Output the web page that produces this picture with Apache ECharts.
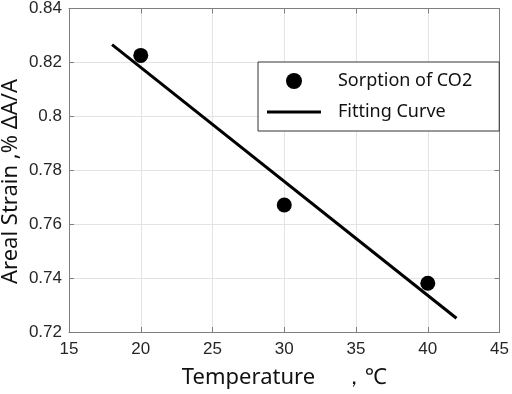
<!DOCTYPE html>
<html><head><meta charset="utf-8">
<script src="https://cdn.jsdelivr.net/npm/echarts@6/dist/echarts.min.js"></script>
<style>html,body{margin:0;padding:0;background:#fff}#c{width:512px;height:394px}</style>
</head><body><div id="c"></div>
<script>
const temperatures = [20, 30, 40];
const strainValues = [0.8226, 0.7671, 0.7381];
const fitTemps = [18, 42];
const fitValues = [0.8266, 0.7251];
const xTicks = {min: 15, max: 45, interval: 5};
const yTicks = {min: 0.72, max: 0.84, interval: 0.02};
const seriesNames = ['Sorption of CO2', 'Fitting Curve'];
const xTitle = 'Temperature \u3000\uFF0C\u2103';
const yTitle = 'Areal Strain ,% \u0394A/A';

const chart = echarts.init(document.getElementById('c'), null, {renderer: 'canvas'});
const tickFont = {fontFamily: 'Liberation Sans', fontSize: 17, color: '#262626'};
const frame = {show: true, lineStyle: {color: '#7f7f7f', width: 1}};
const tick = {show: true, inside: true, length: 5, lineStyle: {color: '#7f7f7f'}};
chart.setOption({
  animation: false,
  grid: {left: 69, right: 10, top: 7, bottom: 60},
  legend: {
    orient: 'vertical', left: 258, top: 62,
    padding: [10, 27, 10, 9], itemGap: 13,
    itemWidth: 54, itemHeight: 16,
    borderColor: '#333', borderWidth: 1, backgroundColor: '#fff',
    textStyle: {fontFamily: 'Noto Sans', fontSize: 18, color: '#111', padding: [0, 0, 0, 12]},
    data: [
      {name: seriesNames[0], icon: 'circle'},
      {name: seriesNames[1], icon: 'path://M0,6.5H54V9.5H0Z M0,0H0.01V0.01H0Z M0,16H0.01V16.01H0Z'}
    ]
  },
  xAxis: [{
    type: 'value', min: xTicks.min, max: xTicks.max, interval: xTicks.interval,
    axisLine: frame, axisTick: tick,
    axisLabel: Object.assign({margin: 9}, tickFont),
    splitLine: {show: true, lineStyle: {color: '#e3e3e3', width: 1}},
    name: xTitle, nameLocation: 'middle', nameGap: 35,
    nameTextStyle: {fontFamily: 'Noto Sans', fontSize: 22, color: '#111'}
  }, {
    type: 'value', position: 'top', min: xTicks.min, max: xTicks.max, interval: xTicks.interval,
    axisLine: frame, axisTick: tick,
    axisLabel: {show: false}, splitLine: {show: false}
  }],
  yAxis: [{
    type: 'value', min: yTicks.min, max: yTicks.max, interval: yTicks.interval,
    axisLine: frame, axisTick: tick,
    axisLabel: Object.assign({margin: 7, formatter: v => String(+v.toFixed(2))}, tickFont),
    splitLine: {show: true, lineStyle: {color: '#e3e3e3', width: 1}}
  }, {
    type: 'value', position: 'right', min: yTicks.min, max: yTicks.max, interval: yTicks.interval,
    axisLine: frame, axisTick: tick,
    axisLabel: {show: false}, splitLine: {show: false}
  }],
  graphic: [{
    type: 'text',
    style: {text: yTitle, fontFamily: 'Noto Sans', fontSize: 22, fill: '#111'},
    rotation: Math.PI / 2,
    x: 0, y: 284
  }],
  series: [{
    name: seriesNames[1], type: 'line', showSymbol: false, symbol: 'none',
    data: fitTemps.map((t, i) => [t, fitValues[i]]),
    lineStyle: {color: '#000', width: 3}, itemStyle: {color: '#000'}, z: 2
  }, {
    name: seriesNames[0], type: 'scatter', symbol: 'circle', symbolSize: 15,
    data: temperatures.map((t, i) => [t, strainValues[i]]),
    itemStyle: {color: '#000', opacity: 1}, z: 3
  }]
});
</script></body></html>
